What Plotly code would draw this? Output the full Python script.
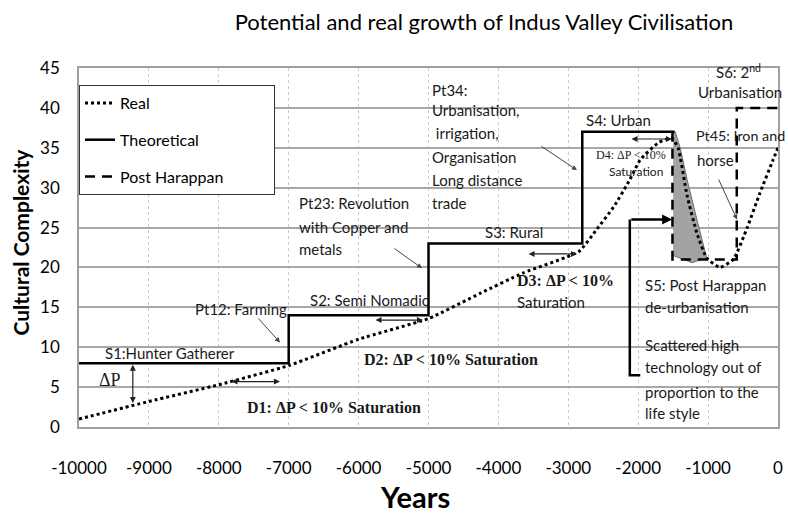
import plotly.graph_objects as go

# ---- data ----
real_x = [-10000, -9000, -8000, -7000, -6000, -5000, -4250, -3650, -2850, -2600, -2350, -2120,
          -1970, -1700, -1520, -1430, -1300, -1160, -1020, -830, -640, -440, -260, -70, 0]
real_y = [1, 3.2, 5.3, 7.7, 11, 13.6, 16.8, 19.3, 22, 24.7, 27.6, 31,
          33.5, 35.7, 36.2, 35, 29, 24.3, 21.2, 20, 21, 25, 29.3, 33.5, 35]

theo_x = [-10000, -7000, -7000, -5000, -5000, -2800, -2800, -1480]
theo_y = [8, 8, 14, 14, 23, 23, 37, 37]

post_x = [-1510, -1510, -590, -590, 0]
post_y = [37, 21, 21, 40, 40]

gray_x = [-1500, -1470, -1400, -1300, -1160, -1020, -1230, -1500]
gray_y = [37, 37, 35, 31, 26, 21.2, 20.6, 21.5]

bracket_x = [-1970, -2120, -2120]
bracket_y = [6.5, 6.5, 26]

x_ticks = [-10000, -9000, -8000, -7000, -6000, -5000, -4000, -3000, -2000, -1000, 0]
y_ticks = [0, 5, 10, 15, 20, 25, 30, 35, 40, 45]

series_names = ["Real", "Theoretical", "Post Harappan"]

# labels: (x, y, text)
sans_labels = [
    (-9657, 9.28, "S1:Hunter Gatherer"),
    (-8369, 14.8, "Pt12: Farming"),
    (-6724, 15.9, "S2: Semi Nomadic"),
    (-6881, 28.1, "Pt23: Revolution"),
    (-6881, 25.1, "with Copper and"),
    (-6881, 22.3, "metals"),
    (-4220, 24.4, "S3: Rural"),
    (-4979, 42.2, "Pt34:"),
    (-4979, 39.7, "Urbanisation,"),
    (-4979, 36.85, " irrigation,"),
    (-4979, 33.8, "Organisation"),
    (-4979, 31.0, "Long distance"),
    (-4979, 28.1, "trade"),
    (-2775, 38.5, "S4: Urban"),
    (-1188, 33.5, "horse"),
    (-1932, 17.8, "S5: Post Harappan"),
    (-1932, 15.0, "de-urbanisation"),
    (-1932, 10.3, "Scattered high"),
    (-1932, 7.5, "technology out of"),
    (-1932, 4.4, "proportion to the"),
    (-1932, 1.75, "life style"),
    (-3763, 15.7, "Saturation"),
]
edge_labels = [
    (-1200, 36.6, "Pt45: Iron and"),
]
center_labels = [
    (-572, 44.5, "S6: 2<sup>nd</sup>"),
    (-543, 42.0, "Urbanisation"),
]
serif_labels = [
    (-7625, 2.5, "D1: ΔP &lt; 10% Saturation"),
    (-5951, 8.4, "D2: ΔP &lt; 10% Saturation"),
    (-3763, 18.4, "D3: ΔP &lt; 10%"),
]
small_serif_labels = [
    (-2103, 34.1, "D4: ΔP &lt; 10%"),
]
small_sans_labels = [
    (-2032, 32.0, "Saturation"),
]

double_arrows = [
    (-7840, 5.7, -7125, 5.7),
    (-5780, 13.4, -5080, 13.4),
    (-3590, 21.7, -2876, 21.7),
    (-2117, 36.1, -1516, 36.1),
    (-9230, 8, -9230, 3.0),
]
pointer_arrows = [
    (-7454, 13.8, -7125, 10.6),
    (-5508, 22.5, -5093, 19.9),
    (-3405, 35.3, -2876, 32.2),
    (-858, 31.2, -586, 26),
]

SANS = "Lato"
SERIF = "Liberation Serif"
TXT = "#1a1a1a"
PAD = "\u00a0" * 11

fig = go.Figure()

fig.add_trace(go.Scatter(x=gray_x, y=gray_y, fill="toself", fillcolor="#a3a3a3",
                         line=dict(color="#6f6f6f", width=1), mode="lines",
                         showlegend=False, hoverinfo="skip"))
fig.add_trace(go.Scatter(x=real_x, y=real_y, name=series_names[0], mode="lines",
                         line=dict(color="black", width=3, dash="dot", shape="spline", smoothing=0.5),
                         legendgroup="a"))
fig.add_trace(go.Scatter(x=theo_x, y=theo_y, name=series_names[1], mode="lines",
                         line=dict(color="black", width=2.5), legendgroup="b"))
fig.add_trace(go.Scatter(x=post_x, y=post_y, name=series_names[2] + PAD, mode="lines",
                         line=dict(color="black", width=2.5, dash="10px,7px"), legendgroup="c"))
fig.add_trace(go.Scatter(x=bracket_x, y=bracket_y, mode="lines",
                         line=dict(color="black", width=2.5), showlegend=False, hoverinfo="skip"))

ann = []
for x, y, t in sans_labels:
    ann.append(dict(x=x, y=y, text=t, xref="x", yref="y", showarrow=False,
                    xanchor="left", yanchor="middle", font=dict(family=SANS, size=15, color=TXT)))
for x, y, t in edge_labels:
    ann.append(dict(x=x, y=y, text=t, xref="x", yref="y", showarrow=False,
                    xanchor="left", yanchor="middle", font=dict(family=SANS, size=14.3, color=TXT)))
for x, y, t in center_labels:
    ann.append(dict(x=x, y=y, text=t, xref="x", yref="y", showarrow=False,
                    xanchor="center", yanchor="middle", font=dict(family=SANS, size=15, color=TXT)))
for x, y, t in serif_labels:
    ann.append(dict(x=x, y=y, text="<b>" + t + "</b>", xref="x", yref="y", showarrow=False,
                    xanchor="left", yanchor="middle", font=dict(family=SERIF, size=16, color=TXT)))
for x, y, t in small_serif_labels:
    ann.append(dict(x=x, y=y, text=t, xref="x", yref="y", showarrow=False,
                    xanchor="center", yanchor="middle", font=dict(family=SERIF, size=12, color=TXT)))
for x, y, t in small_sans_labels:
    ann.append(dict(x=x, y=y, text=t, xref="x", yref="y", showarrow=False,
                    xanchor="center", yanchor="middle", font=dict(family=SANS, size=12, color=TXT)))
ann.append(dict(x=-9557, y=5.9, text="ΔP", xref="x", yref="y", showarrow=False,
                xanchor="center", yanchor="middle", font=dict(family=SERIF, size=18, color=TXT)))

for x0, y0, x1, y1 in double_arrows:
    ann.append(dict(x=x1, y=y1, ax=x0, ay=y0, xref="x", yref="y", axref="x", ayref="y",
                    text="", showarrow=True, arrowhead=2, startarrowhead=2, arrowside="end+start",
                    arrowsize=1, startarrowsize=1, arrowwidth=1.2, arrowcolor="#222"))
for x0, y0, x1, y1 in pointer_arrows:
    ann.append(dict(x=x1, y=y1, ax=x0, ay=y0, xref="x", yref="y", axref="x", ayref="y",
                    text="", showarrow=True, arrowhead=2, arrowsize=1, arrowwidth=1,
                    arrowcolor="#444"))
# thick bracket arrow
ann.append(dict(x=-1515, y=26, ax=-2120, ay=26, xref="x", yref="y", axref="x", ayref="y",
                text="", showarrow=True, arrowhead=2, arrowsize=0.8, arrowwidth=2.5,
                arrowcolor="black"))

# axis titles as annotations
ann.append(dict(x=(415 - 79) / 699, y=(427 - 496) / 359, xref="paper", yref="paper",
                text="<b>Years</b>", showarrow=False, xanchor="center", yanchor="middle",
                font=dict(family=SANS, size=29, color="black")))
ann.append(dict(x=(20 - 79) / 699, y=(427 - 242.5) / 359, xref="paper", yref="paper",
                text="<b>Cultural Complexity</b>", showarrow=False, textangle=-90,
                xanchor="center", yanchor="middle",
                font=dict(family=SANS, size=21, color="black")))

fig.update_layout(
    width=788, height=514,
    margin=dict(l=79, r=10, t=68, b=87, autoexpand=False),
    paper_bgcolor="white", plot_bgcolor="white",
    title=dict(text="Potential and real growth of Indus Valley Civilisation",
               x=484 / 788, xanchor="center", xref="container",
               y=1 - 22 / 514, yanchor="middle", yref="container",
               font=dict(family=SANS, size=22, color="black")),
    annotations=ann,
    legend=dict(x=0, xanchor="left", y=(427 - 85) / 359, yanchor="top",
                bgcolor="white", bordercolor="#333", borderwidth=1,
                font=dict(family=SANS, size=16, color="black"),
                tracegroupgap=13, traceorder="grouped", itemwidth=30),
    showlegend=True,
)
fig.update_xaxes(range=[-10000, 0], tickvals=x_ticks, ticktext=[str(v) for v in x_ticks],
                 showgrid=True, gridcolor="#c8c8c8", griddash="dot", gridwidth=1,
                 showline=True, linecolor="#a0a0a0", linewidth=1.5, mirror=True,
                 zeroline=False, ticks="", ticklabelstandoff=25, automargin=False,
                 tickfont=dict(family=SANS, size=17, color="black"))
fig.update_yaxes(range=[0, 45], tickvals=y_ticks, showgrid=True, gridcolor="#a8a8a8",
                 gridwidth=1.5, showline=True, linecolor="#a0a0a0", linewidth=1.5, mirror=True,
                 zeroline=False, ticks="", ticklabelstandoff=14, automargin=False,
                 tickfont=dict(family=SANS, size=17, color="black"))

fig.write_html("out.html", config={"displayModeBar": False},
               post_script="document.body.style.margin='0';")
